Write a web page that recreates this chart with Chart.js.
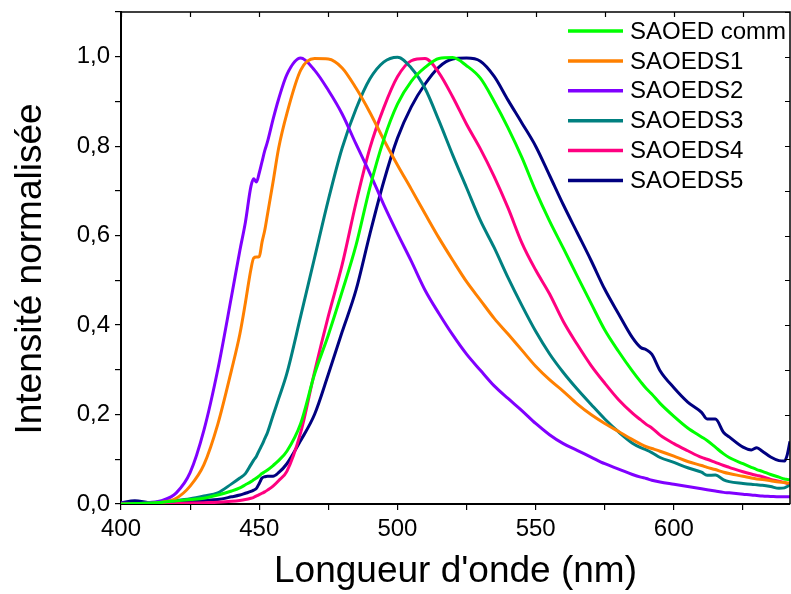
<!DOCTYPE html>
<html>
<head>
<meta charset="utf-8">
<script src="https://cdn.jsdelivr.net/npm/chart.js@4/dist/chart.umd.min.js"></script>
<style>
html,body{margin:0;padding:0;background:#fff;}
#wrap{width:791px;height:594px;position:relative;}
</style>
</head>
<body>
<div id="wrap"><canvas id="c" width="791" height="594"></canvas></div>
<script>
// Wavelength grid (nm)
const wavelengths = [400,405,410,415,420,425,430,435,440,443,445,447,448,449,450,451,452,453,455,457,460,465,470,475,480,485,490,495,500,505,510,515,520,525,530,535,540,545,550,555,560,565,570,575,580,585,588,590,592,595,600,605,610,612,615,618,620,625,628,630,632,635,638,640,641,642];

const saoedComm = [0,0.001,0.002,0.004,0.007,0.01,0.013,0.02,0.029,0.036,0.043,0.05,0.054,0.058,0.063,0.068,0.072,0.076,0.086,0.097,0.118,0.18,0.29,0.378,0.475,0.578,0.707,0.814,0.894,0.945,0.976,0.996,0.998,0.98,0.952,0.9,0.841,0.775,0.7,0.633,0.572,0.51,0.449,0.389,0.341,0.297,0.273,0.258,0.246,0.225,0.196,0.17,0.15,0.142,0.127,0.112,0.104,0.09,0.082,0.077,0.073,0.066,0.06,0.056,0.055,0.054];
const saoeds1 = [0,0,0.001,0.004,0.013,0.04,0.088,0.178,0.3,0.38,0.45,0.525,0.55,0.552,0.553,0.585,0.612,0.648,0.72,0.795,0.873,0.97,0.996,0.995,0.975,0.93,0.876,0.815,0.758,0.704,0.649,0.595,0.545,0.497,0.456,0.415,0.38,0.344,0.308,0.278,0.252,0.224,0.2,0.18,0.162,0.144,0.134,0.128,0.124,0.118,0.107,0.095,0.086,0.082,0.077,0.071,0.068,0.062,0.058,0.056,0.055,0.052,0.049,0.048,0.047,0.047];
const saoeds2 = [0.002,0.001,0.003,0.008,0.025,0.07,0.165,0.3,0.465,0.567,0.63,0.71,0.727,0.72,0.74,0.765,0.79,0.81,0.86,0.905,0.96,0.997,0.97,0.925,0.872,0.805,0.74,0.67,0.605,0.543,0.478,0.426,0.378,0.335,0.299,0.264,0.236,0.209,0.18,0.155,0.135,0.12,0.105,0.09,0.078,0.066,0.06,0.057,0.053,0.049,0.044,0.039,0.034,0.032,0.029,0.026,0.025,0.022,0.02,0.019,0.018,0.017,0.016,0.016,0.016,0.016];
const saoeds3 = [0,0.001,0.002,0.005,0.008,0.012,0.018,0.025,0.045,0.058,0.068,0.088,0.098,0.107,0.12,0.132,0.146,0.16,0.198,0.235,0.292,0.42,0.55,0.68,0.796,0.883,0.95,0.988,0.999,0.975,0.929,0.857,0.78,0.707,0.634,0.573,0.506,0.444,0.386,0.336,0.294,0.257,0.223,0.19,0.161,0.136,0.126,0.121,0.115,0.104,0.093,0.081,0.071,0.064,0.065,0.054,0.05,0.046,0.044,0.043,0.042,0.039,0.035,0.036,0.039,0.043];
const saoeds4 = [0,0,0,0,0.001,0.002,0.003,0.004,0.006,0.008,0.01,0.013,0.015,0.018,0.021,0.024,0.027,0.031,0.04,0.052,0.073,0.16,0.295,0.42,0.535,0.673,0.795,0.885,0.955,0.991,0.996,0.964,0.91,0.849,0.794,0.732,0.662,0.584,0.523,0.47,0.408,0.357,0.31,0.27,0.233,0.203,0.188,0.178,0.17,0.154,0.135,0.119,0.104,0.1,0.093,0.086,0.082,0.072,0.067,0.064,0.061,0.055,0.051,0.048,0.046,0.045];
const saoeds5 = [0.003,0.007,0.003,0.001,0.002,0.006,0.008,0.01,0.016,0.02,0.024,0.028,0.031,0.035,0.046,0.058,0.061,0.062,0.062,0.07,0.09,0.142,0.2,0.29,0.385,0.478,0.603,0.72,0.818,0.888,0.939,0.977,0.995,0.997,0.99,0.956,0.903,0.852,0.8,0.735,0.669,0.607,0.545,0.48,0.425,0.372,0.35,0.345,0.335,0.298,0.26,0.228,0.205,0.19,0.19,0.16,0.15,0.127,0.121,0.126,0.118,0.105,0.097,0.096,0.11,0.14];

const seriesNames = ['SAOED comm','SAOEDS1','SAOEDS2','SAOEDS3','SAOEDS4','SAOEDS5'];
const seriesValues = [saoedComm, saoeds1, saoeds2, saoeds3, saoeds4, saoeds5];
const seriesColors = ['#00FF00','#FF8000','#8000FF','#008080','#FF0080','#000080'];

const xTitle = "Longueur d'onde (nm)";
const yTitle = 'Intensité normalisée';

const FONT = '"Liberation Sans", Arial, sans-serif';
Chart.defaults.font.family = FONT;
Chart.defaults.color = '#000';

const datasets = seriesNames.map((name, k) => ({
  label: name,
  data: wavelengths.map((w, i) => ({x: w, y: seriesValues[k][i]})),
  borderColor: seriesColors[k],
  backgroundColor: seriesColors[k],
  borderWidth: 3,
  pointRadius: 0,
  cubicInterpolationMode: 'monotone',
  fill: false
}));

const framePlugin = {
  id: 'frame',
  afterDraw(chart) {
    const ctx = chart.ctx;
    const a = chart.chartArea;
    const xs = chart.scales.x, ys = chart.scales.y;
    ctx.save();
    ctx.strokeStyle = '#000';
    ctx.lineWidth = 1.5;
    ctx.beginPath();
    ctx.moveTo(a.left, a.top); ctx.lineTo(a.right, a.top); ctx.lineTo(a.right, a.bottom);
    ctx.stroke();
    ctx.lineWidth = 1.2;
    ctx.beginPath();
    xs.ticks.forEach(t => {
      const px = Math.round(xs.getPixelForValue(t.value)) + 0.5;
      ctx.moveTo(px, a.top); ctx.lineTo(px, a.top + 5);
    });
    ys.ticks.forEach(t => {
      const py = Math.round(ys.getPixelForValue(t.value)) + 0.5;
      ctx.moveTo(a.right, py); ctx.lineTo(a.right - 5, py);
    });
    ctx.stroke();
    // y axis title
    ctx.fillStyle = '#000';
    ctx.font = '37px ' + FONT;
    ctx.textAlign = 'center';
    ctx.textBaseline = 'middle';
    ctx.translate(31, 269);
    ctx.rotate(-Math.PI / 2);
    ctx.fillText(yTitle, 0, 0);
    ctx.restore();
  }
};

const legendPlugin = {
  id: 'insideLegend',
  afterDraw(chart) {
    const ctx = chart.ctx;
    ctx.save();
    ctx.font = '24px ' + FONT;
    ctx.textBaseline = 'middle';
    ctx.textAlign = 'left';
    chart.data.datasets.forEach((ds, i) => {
      const y = 31 + i * 29.9;
      ctx.strokeStyle = ds.borderColor;
      ctx.lineWidth = 3.5;
      ctx.beginPath(); ctx.moveTo(568, y); ctx.lineTo(623, y); ctx.stroke();
      ctx.fillStyle = '#000';
      ctx.fillText(ds.label, 630, y + 1);
    });
    ctx.restore();
  }
};

new Chart(document.getElementById('c'), {
  type: 'line',
  data: { datasets },
  options: {
    responsive: false,
    animation: false,
    devicePixelRatio: 1,
    layout: { padding: { top: 12, right: 1, left: 0, bottom: 0 } },
    plugins: { legend: { display: false }, tooltip: { enabled: false } },
    scales: {
      x: {
        type: 'linear', min: 400, max: 642,
        afterFit: s => { s.height = 90; s.paddingLeft = 0; s.paddingRight = 0; },
        border: { display: true, color: '#000', width: 2 },
        grid: { drawOnChartArea: false, drawTicks: true, tickLength: 6, color: '#000', lineWidth: 1.2 },
        ticks: {
          stepSize: 25, includeBounds: false, maxRotation: 0, autoSkip: false, padding: 5,
          font: { size: 24 }, color: '#000',
          callback: v => (Math.round(v) % 50 === 0 ? String(Math.round(v)) : '')
        },
        title: { display: true, text: xTitle, font: { size: 37 }, color: '#000', padding: { top: 0, bottom: 0 } }
      },
      y: {
        type: 'linear', min: 0, max: 1.1,
        afterFit: s => { s.width = 121; s.paddingTop = 0; s.paddingBottom = 0; },
        border: { display: true, color: '#000', width: 2 },
        grid: { drawOnChartArea: false, drawTicks: true, tickLength: 6, color: '#000', lineWidth: 1.2 },
        ticks: {
          stepSize: 0.1, includeBounds: false, autoSkip: false, padding: 5,
          font: { size: 24 }, color: '#000',
          callback: v => { const k = Math.round(v * 10); return (k % 2 === 0 && k <= 10) ? (k / 10).toFixed(1).replace('.', ',') : ''; }
        }
      }
    }
  },
  plugins: [framePlugin, legendPlugin]
});
</script>
</body>
</html>
